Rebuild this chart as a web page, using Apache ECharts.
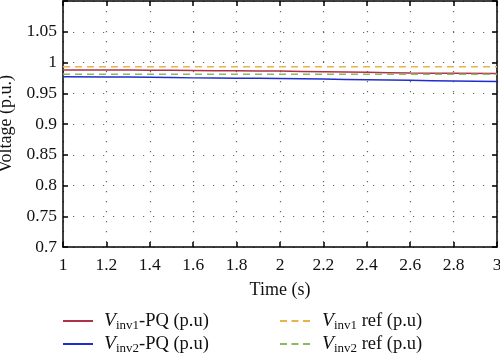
<!DOCTYPE html>
<html><head><meta charset="utf-8">
<script src="https://cdn.jsdelivr.net/npm/echarts@6/dist/echarts.min.js"></script>
<style>html,body{margin:0;padding:0;background:#fff}#c{width:500px;height:355px}</style>
</head><body><div id="c"></div>
<script>
var time = [1, 1.2, 1.4, 1.6, 1.8, 2.0, 2.2, 2.4, 2.6, 2.8, 3.0];
var vinv1PQ = [0.988, 0.988, 0.9875, 0.987, 0.9865, 0.986, 0.985, 0.984, 0.983, 0.9825, 0.982];
var vinv2PQ = [0.977, 0.9765, 0.976, 0.975, 0.9745, 0.974, 0.973, 0.972, 0.971, 0.970, 0.969];
var vinv1Ref = [0.993, 0.993, 0.993, 0.993, 0.993, 0.993, 0.993, 0.993, 0.993, 0.993, 0.993];
var vinv2Ref = [0.981, 0.981, 0.981, 0.981, 0.981, 0.981, 0.981, 0.981, 0.981, 0.981, 0.981];
var xTicks = [1, 1.2, 1.4, 1.6, 1.8, 2, 2.2, 2.4, 2.6, 2.8, 3];
var yTicks = [0.7, 0.75, 0.8, 0.85, 0.9, 0.95, 1, 1.05];

var F = 'Liberation Serif';
function pairs(v){ return time.map(function(t,i){return [t, v[i]];}); }
var rich = {
  v:{fontFamily:F, fontSize:19.5, fontStyle:'italic', color:'#111', lineHeight:22},
  s:{fontFamily:F, fontSize:13, color:'#111', padding:[9,0,0,0], lineHeight:22},
  n:{fontFamily:F, fontSize:18.5, color:'#111', lineHeight:22}
};
function legendFmt(name){
  var m = {'a':'{v|V}{s|inv1}{n|-PQ (p.u)}','b':'{v|V}{s|inv2}{n|-PQ (p.u)}',
           'c':'{v|V}{s|inv1}{n| ref (p.u)}','d':'{v|V}{s|inv2}{n| ref (p.u)}'};
  return m[name];
}
var solidIcon = 'path://M0,0 L30,0 L30,2 L0,2 Z';
var dashIcon = 'path://M0,0 L7,0 L7,2 L0,2 Z M11.5,0 L18.5,0 L18.5,2 L11.5,2 Z M23,0 L30,0 L30,2 L23,2 Z';
var chart = echarts.init(document.getElementById('c'));
var splitLine = {show:true, lineStyle:{color:'#666', type:[1.2,8.8], width:1.2}};
chart.setOption({
  animation:false,
  grid:{left:63, right:3, top:1, bottom:108, outerBoundsMode:'none', containLabel:false},
  xAxis:[{
    type:'value', min:1, max:3, interval:0.2,
    axisLine:{lineStyle:{color:'#000', width:1.5}},
    axisTick:{inside:true, length:5, lineStyle:{color:'#000', width:1.5}},
    axisLabel:{fontFamily:F, fontSize:17.5, color:'#111', margin:9,
      formatter:function(v){ var r=Math.round(v*10)/10; return xTicks.indexOf(r)>=0 ? String(r) : ''; }},
    splitLine:splitLine,
    name:'Time (s)', nameLocation:'middle', nameGap:34,
    nameTextStyle:{fontFamily:F, fontSize:18, color:'#111'}
  },{
    type:'value', min:1, max:3, interval:0.2, position:'top',
    axisLine:{lineStyle:{color:'#000', width:1.5}},
    axisTick:{inside:true, length:5, lineStyle:{color:'#000', width:1.5}},
    axisLabel:{show:false}, splitLine:{show:false}
  }],
  yAxis:[{
    type:'value', min:0.7, max:1.1, interval:0.05,
    axisLine:{show:true, lineStyle:{color:'#000', width:1.5}},
    axisTick:{show:true, inside:true, length:5, lineStyle:{color:'#000', width:1.5}},
    axisLabel:{fontFamily:F, fontSize:17.5, color:'#111', margin:6,
      formatter:function(v){ var r=Math.round(v*100)/100; return (yTicks.indexOf(r)>=0) ? String(r) : ''; }},
    splitLine:splitLine,
    name:'Voltage (p.u.)', nameLocation:'middle', nameGap:45,
    nameTextStyle:{fontFamily:F, fontSize:18, color:'#111'}
  },{
    type:'value', min:0.7, max:1.1, interval:0.05, position:'right',
    axisLine:{show:true, lineStyle:{color:'#000', width:1.5}},
    axisTick:{show:true, inside:true, length:5, lineStyle:{color:'#000', width:1.5}},
    axisLabel:{show:false}, splitLine:{show:false}
  }],
  legend:[{
    data:['a','b'], orient:'vertical', left:63, top:310, itemGap:1, padding:0, height:60,
    itemWidth:30, itemHeight:2, icon:solidIcon,
    formatter:legendFmt, textStyle:{rich:rich, padding:[0,0,0,6]}
  },{
    data:['c','d'], orient:'vertical', left:280, top:310, itemGap:1, padding:0, height:60,
    itemWidth:30, itemHeight:2, icon:dashIcon,
    formatter:legendFmt, textStyle:{rich:rich, padding:[0,0,0,7]}
  }],
  series:[
    {name:'a', type:'line', data:pairs(vinv1PQ), showSymbol:false, symbol:'none', smooth:true, lineStyle:{color:'#b0304a', width:1.5}, itemStyle:{color:'#b0304a'}},
    {name:'b', type:'line', data:pairs(vinv2PQ), showSymbol:false, symbol:'none', smooth:true, lineStyle:{color:'#1f2fcf', width:1.5}, itemStyle:{color:'#1f2fcf'}},
    {name:'c', type:'line', data:pairs(vinv1Ref), showSymbol:false, symbol:'none', lineStyle:{color:'#e8b44a', width:1.5, type:[7,5]}, itemStyle:{color:'#e8b44a'}},
    {name:'d', type:'line', data:pairs(vinv2Ref), showSymbol:false, symbol:'none', lineStyle:{color:'#8cb860', width:1.5, type:[7,5]}, itemStyle:{color:'#8cb860'}}
  ]
});
</script></body></html>
